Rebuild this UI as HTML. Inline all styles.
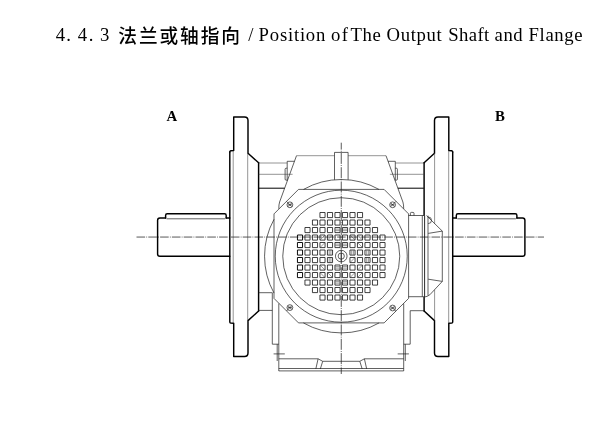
<!DOCTYPE html>
<html><head><meta charset="utf-8"><title>Position of The Output Shaft and Flange</title>
<style>html,body{margin:0;padding:0;background:#fff;}body{width:600px;height:431px;overflow:hidden;font-family:"Liberation Serif",serif;}svg{display:block;filter:grayscale(1);}</style>
</head><body>
<svg width="600" height="431" viewBox="0 0 600 431">
<g font-family="'Liberation Serif', serif" fill="#000" transform="translate(0,41.6) scale(1,1.035) translate(0,-41.6)"><text x="55.7" y="41.3" font-size="18.7">4</text><text x="66.3" y="41.3" font-size="18.7">.</text><text x="77.7" y="41.3" font-size="18.7">4</text><text x="88.7" y="41.3" font-size="18.7">.</text><text x="100.0" y="41.3" font-size="18.7">3</text><text x="118.3" y="42.86" font-size="18.7" font-family="'Liberation Sans', 'Noto Sans CJK SC', sans-serif" font-weight="500" textLength="121.7" lengthAdjust="spacing">法兰或轴指向</text><text x="248.2" y="41.3" font-size="18.7" letter-spacing="0.00">/</text><text x="258.6" y="41.3" font-size="18.7" letter-spacing="0.78">Position</text><text x="330.9" y="41.3" font-size="18.7" letter-spacing="1.60">of</text><text x="350.4" y="41.3" font-size="18.7" letter-spacing="0.71">The</text><text x="386.6" y="41.3" font-size="18.7" letter-spacing="0.65">Output</text><text x="448.2" y="41.3" font-size="18.7" letter-spacing="0.41">Shaft</text><text x="494.6" y="41.3" font-size="18.7" letter-spacing="0.50">and</text><text x="528.6" y="41.3" font-size="18.7" letter-spacing="0.62">Flange</text></g>
<g font-family="'Liberation Serif', serif" font-weight="bold" font-size="14.8" fill="#000"><text x="166.4" y="120.9">A</text><text x="495.1" y="120.9">B</text></g>
<g stroke="#111" stroke-width="0.7" fill="none"><path d="M136.5,237.05 H544" stroke-dasharray="8.6 1.2 0.8 1.2"/><path d="M341.25,142.7 V374" stroke-dasharray="11 1.2 0.9 1.2" stroke-dashoffset="4.1"/></g>
<path stroke="#000" stroke-width="1.45" fill="none" stroke-linejoin="round" stroke-linecap="round" d="M229.8,152 Q229.8,151 230.8,150.8 L233.7,150.6 L233.7,117 L244.5,117 Q248.0,117 248.0,120.5 L248.0,153.2 L258.6,162.8"/><path stroke="#000" stroke-width="1.45" fill="none" stroke-linejoin="round" stroke-linecap="round" d="M229.8,152 L229.8,322 Q229.8,323 230.8,323.1 L233.7,323.3 L233.7,356.5 L244.5,356.5 Q248.0,356.5 248.0,353.0 L248.0,320.6 L258.6,311"/><path stroke="#3a3a3a" stroke-width="0.55" fill="none" d="M233.2,151 V323 M247.7,153 V320.5"/><path stroke="#000" stroke-width="1.45" fill="none" stroke-linejoin="round" stroke-linecap="round" d="M165.6,218 L159.9,218 Q157.6,218 157.6,220.3 L157.6,254 Q157.6,256.3 159.9,256.3 L229.8,256.3 M226.2,218 L229.8,218"/><path stroke="#1c1c1c" stroke-width="0.7" fill="none" d="M166.6,218.8 H225.2"/><path stroke="#000" stroke-width="1.45" fill="none" stroke-linejoin="round" stroke-linecap="round" d="M165.6,218 L165.6,215.4 Q165.6,213.8 167.2,213.8 L224.6,213.8 Q226.2,213.8 226.2,215.4 L226.2,218"/>
<path stroke="#000" stroke-width="1.45" fill="none" stroke-linejoin="round" stroke-linecap="round" d="M452.7,152 Q452.7,151 451.7,150.8 L448.8,150.6 L448.8,117 L438.0,117 Q434.5,117 434.5,120.5 L434.5,153.2 L424.1,162.8"/><path stroke="#000" stroke-width="1.45" fill="none" stroke-linejoin="round" stroke-linecap="round" d="M452.7,152 L452.7,322 Q452.7,323 451.7,323.1 L448.8,323.3 L448.8,356.5 L438.0,356.5 Q434.5,356.5 434.5,353.0 L434.5,320.6 L424.1,311"/><path stroke="#3a3a3a" stroke-width="0.55" fill="none" d="M448.7,151 V323 M434.6,153 V223.6 M434.6,289.9 V320.5"/><path stroke="#000" stroke-width="1.45" fill="none" stroke-linejoin="round" stroke-linecap="round" d="M516.9,218 L522.6,218 Q524.9,218 524.9,220.3 L524.9,254 Q524.9,256.3 522.6,256.3 L452.7,256.3 M456.3,218 L452.7,218"/><path stroke="#1c1c1c" stroke-width="0.7" fill="none" d="M515.9,218.8 H457.3"/><path stroke="#000" stroke-width="1.45" fill="none" stroke-linejoin="round" stroke-linecap="round" d="M516.9,218 L516.9,215.4 Q516.9,213.8 515.3,213.8 L457.9,213.8 Q456.3,213.8 456.3,215.4 L456.3,218"/>
<path stroke="#000" stroke-width="1.45" fill="none" stroke-linejoin="round" stroke-linecap="round" d="M258.6,162.8 V311"/>
<path stroke="#000" stroke-width="1.45" fill="none" stroke-linejoin="round" stroke-linecap="round" d="M424.1,162.8 V215.3 M424.1,297.2 V311"/>
<path stroke="#111" stroke-width="0.9" fill="none" d="M424.6,215.5 V297"/>
<path stroke="#1c1c1c" stroke-width="0.7" fill="none" d="M334.5,179.8 V152.4 H348.1 V179.8 M296.5,155.7 L279.6,202 Q278.8,204.5 278.8,208.8 M386.0,155.7 L402.9,202 Q403.7,204.5 403.7,208.8 M298.5,189.4 L384.1,189.4 L408.6,213.9 L408.6,298.4 L384.1,322.9 L298.5,322.9 L274.0,298.4 L274.0,213.9 Z M303.56,189.40 A76.7,76.7 0 0 1 378.94,189.40 M379.12,322.90 A76.7,76.7 0 0 1 303.38,322.90 M274.00,293.08 A76.7,76.7 0 0 1 274.00,219.32"/>
<path stroke="#3a3a3a" stroke-width="0.55" fill="none" d="M296.5,155.7 H334.5 M348.1,155.7 H386.0"/>
<circle stroke="#1c1c1c" stroke-width="0.7" fill="none" cx="341.25" cy="256.2" r="66.0"/><circle stroke="#1c1c1c" stroke-width="0.7" fill="none" cx="341.25" cy="256.2" r="58.5"/>
<g stroke="#1c1c1c" stroke-width="0.7" fill="none"><circle cx="289.9" cy="204.8" r="2.9"/><path d="M288.10,203.00 L291.70,206.60 M291.70,203.00 L288.10,206.60 M287.90,204.8 H291.90 M287.90,202.80 L286.50,201.40"/></g>
<g stroke="#1c1c1c" stroke-width="0.7" fill="none"><circle cx="392.6" cy="204.8" r="2.9"/><path d="M390.80,203.00 L394.40,206.60 M394.40,203.00 L390.80,206.60 M390.60,204.8 H394.60 M394.60,202.80 L396.00,201.40"/></g>
<g stroke="#1c1c1c" stroke-width="0.7" fill="none"><circle cx="289.9" cy="307.6" r="2.9"/><path d="M288.10,305.80 L291.70,309.40 M291.70,305.80 L288.10,309.40 M287.90,307.6 H291.90 M287.90,309.60 L286.50,311.00"/></g>
<g stroke="#1c1c1c" stroke-width="0.7" fill="none"><circle cx="392.6" cy="308.0" r="2.9"/><path d="M390.80,306.20 L394.40,309.80 M394.40,306.20 L390.80,309.80 M390.60,308.0 H394.60 M394.60,310.00 L396.00,311.40"/></g>
<path stroke="#1c1c1c" stroke-width="0.7" fill="none" d="M287.2,180.4 V161.3 H294.5 M287.2,168.2 H286.2 Q285.1,168.2 285.1,169.3 V179.1 Q285.1,180.2 286.2,180.2 H287.2 M395.3,180.4 V161.3 H388.0 M395.3,168.2 H396.3 Q397.4,168.2 397.4,169.3 V179.1 Q397.4,180.2 396.3,180.2 H395.3"/>
<path stroke="#3a3a3a" stroke-width="0.55" fill="none" d="M258.6,163 H287.2 M258.6,174.3 H292.6 M423.9,163 H395.3 M423.9,174.3 H389.9"/>
<path stroke="#000" stroke-width="1.0" fill="none" d="M258.6,188.2 H284.6 M423.9,188.2 H397.9"/>
<path stroke="#1c1c1c" stroke-width="0.7" fill="none" d="M258.6,292.7 H272.3 M258.6,310.4 H272.3 M272.3,292.7 V344.2 H278.8 M278.8,303.5 V371 M277.2,344.2 V361 M273.6,353.9 H284.8 M423.9,296.7 H408.6 M423.9,310.7 H410.2 V344.2 H403.7 M403.7,303.5 V371 M405.3,344.2 V361 M408.9,353.9 H397.7"/>
<path stroke="#1c1c1c" stroke-width="0.7" fill="none" d="M278.8,358.8 H318.1 L315.8,369 M322.7,361.3 L320.3,369 M318.1,358.8 L322.7,361.3 H359.8 L364.4,358.8 H403.7 M364.4,358.8 L366.7,369 M359.8,361.3 L362.2,369 M278.8,368.5 H403.7 M278.8,370.9 H403.7"/>
<path stroke="#1c1c1c" stroke-width="0.7" fill="none" d="M408.6,215.5 H424 M422.3,215.5 V296.7 M410.4,215.5 V213.3 Q410.4,212.4 411.3,212.4 H413 Q414,212.4 414,213.3 V215.5 M428,215.6 V295.6 M426.5,215.6 L442.3,231.1 V281.4 L429.8,294.8 Q427.5,296.6 424.6,297 M428.2,233.4 L442.3,231.1 M428.2,279.2 L442.3,281.4 M428.2,217 A3.3,3.3 0 0 1 428.2,223.6"/>
<path stroke="#111" stroke-width="0.8" fill="none" d="M319.95,212.50h5.1v5.1h-5.1zM327.45,212.50h5.1v5.1h-5.1zM334.95,212.50h5.1v5.1h-5.1zM342.45,212.50h5.1v5.1h-5.1zM349.95,212.50h5.1v5.1h-5.1zM357.45,212.50h5.1v5.1h-5.1zM312.45,220.00h5.1v5.1h-5.1zM319.95,220.00h5.1v5.1h-5.1zM327.45,220.00h5.1v5.1h-5.1zM334.95,220.00h5.1v5.1h-5.1zM342.45,220.00h5.1v5.1h-5.1zM349.95,220.00h5.1v5.1h-5.1zM357.45,220.00h5.1v5.1h-5.1zM364.95,220.00h5.1v5.1h-5.1zM304.95,227.50h5.1v5.1h-5.1zM312.45,227.50h5.1v5.1h-5.1zM319.95,227.50h5.1v5.1h-5.1zM327.45,227.50h5.1v5.1h-5.1zM334.95,227.50h5.1v5.1h-5.1zM342.45,227.50h5.1v5.1h-5.1zM349.95,227.50h5.1v5.1h-5.1zM357.45,227.50h5.1v5.1h-5.1zM364.95,227.50h5.1v5.1h-5.1zM372.45,227.50h5.1v5.1h-5.1zM304.95,235.00h5.1v5.1h-5.1zM312.45,235.00h5.1v5.1h-5.1zM319.95,235.00h5.1v5.1h-5.1zM327.45,235.00h5.1v5.1h-5.1zM334.95,235.00h5.1v5.1h-5.1zM342.45,235.00h5.1v5.1h-5.1zM349.95,235.00h5.1v5.1h-5.1zM357.45,235.00h5.1v5.1h-5.1zM364.95,235.00h5.1v5.1h-5.1zM372.45,235.00h5.1v5.1h-5.1zM379.95,235.00h5.1v5.1h-5.1zM304.95,242.50h5.1v5.1h-5.1zM312.45,242.50h5.1v5.1h-5.1zM319.95,242.50h5.1v5.1h-5.1zM327.45,242.50h5.1v5.1h-5.1zM334.95,242.50h5.1v5.1h-5.1zM342.45,242.50h5.1v5.1h-5.1zM349.95,242.50h5.1v5.1h-5.1zM357.45,242.50h5.1v5.1h-5.1zM364.95,242.50h5.1v5.1h-5.1zM372.45,242.50h5.1v5.1h-5.1zM379.95,242.50h5.1v5.1h-5.1zM304.95,250.00h5.1v5.1h-5.1zM312.45,250.00h5.1v5.1h-5.1zM319.95,250.00h5.1v5.1h-5.1zM327.45,250.00h5.1v5.1h-5.1zM349.95,250.00h5.1v5.1h-5.1zM357.45,250.00h5.1v5.1h-5.1zM364.95,250.00h5.1v5.1h-5.1zM372.45,250.00h5.1v5.1h-5.1zM379.95,250.00h5.1v5.1h-5.1zM304.95,257.50h5.1v5.1h-5.1zM312.45,257.50h5.1v5.1h-5.1zM319.95,257.50h5.1v5.1h-5.1zM327.45,257.50h5.1v5.1h-5.1zM349.95,257.50h5.1v5.1h-5.1zM357.45,257.50h5.1v5.1h-5.1zM364.95,257.50h5.1v5.1h-5.1zM372.45,257.50h5.1v5.1h-5.1zM379.95,257.50h5.1v5.1h-5.1zM304.95,265.00h5.1v5.1h-5.1zM312.45,265.00h5.1v5.1h-5.1zM319.95,265.00h5.1v5.1h-5.1zM327.45,265.00h5.1v5.1h-5.1zM334.95,265.00h5.1v5.1h-5.1zM342.45,265.00h5.1v5.1h-5.1zM349.95,265.00h5.1v5.1h-5.1zM357.45,265.00h5.1v5.1h-5.1zM364.95,265.00h5.1v5.1h-5.1zM372.45,265.00h5.1v5.1h-5.1zM379.95,265.00h5.1v5.1h-5.1zM304.95,272.50h5.1v5.1h-5.1zM312.45,272.50h5.1v5.1h-5.1zM319.95,272.50h5.1v5.1h-5.1zM327.45,272.50h5.1v5.1h-5.1zM334.95,272.50h5.1v5.1h-5.1zM342.45,272.50h5.1v5.1h-5.1zM349.95,272.50h5.1v5.1h-5.1zM357.45,272.50h5.1v5.1h-5.1zM364.95,272.50h5.1v5.1h-5.1zM372.45,272.50h5.1v5.1h-5.1zM379.95,272.50h5.1v5.1h-5.1zM304.95,280.00h5.1v5.1h-5.1zM312.45,280.00h5.1v5.1h-5.1zM319.95,280.00h5.1v5.1h-5.1zM327.45,280.00h5.1v5.1h-5.1zM334.95,280.00h5.1v5.1h-5.1zM342.45,280.00h5.1v5.1h-5.1zM349.95,280.00h5.1v5.1h-5.1zM357.45,280.00h5.1v5.1h-5.1zM364.95,280.00h5.1v5.1h-5.1zM372.45,280.00h5.1v5.1h-5.1zM312.45,287.50h5.1v5.1h-5.1zM319.95,287.50h5.1v5.1h-5.1zM327.45,287.50h5.1v5.1h-5.1zM334.95,287.50h5.1v5.1h-5.1zM342.45,287.50h5.1v5.1h-5.1zM349.95,287.50h5.1v5.1h-5.1zM357.45,287.50h5.1v5.1h-5.1zM364.95,287.50h5.1v5.1h-5.1zM319.95,295.00h5.1v5.1h-5.1zM327.45,295.00h5.1v5.1h-5.1zM334.95,295.00h5.1v5.1h-5.1zM342.45,295.00h5.1v5.1h-5.1zM349.95,295.00h5.1v5.1h-5.1zM357.45,295.00h5.1v5.1h-5.1z"/>
<path stroke="#000" stroke-width="0.95" fill="none" d="M297.45,235.00h5.1v5.1h-5.1zM297.45,242.50h5.1v5.1h-5.1zM297.45,250.00h5.1v5.1h-5.1zM297.45,257.50h5.1v5.1h-5.1zM297.45,265.00h5.1v5.1h-5.1zM297.45,272.50h5.1v5.1h-5.1z"/>
<path stroke="#333" stroke-width="0.5" fill="none" d="M320.25,239.80L324.75,235.30M327.75,239.80L332.25,235.30M320.25,247.30L324.75,242.80M329.20,250.30V254.80M330.90,250.30V254.80M329.20,257.80V262.30M330.90,257.80V262.30M320.25,265.30L324.75,269.80M320.25,272.80L324.75,277.30M327.75,272.80L332.25,277.30M350.25,235.30L354.75,239.80M357.75,235.30L362.25,239.80M357.75,242.80L362.25,247.30M351.70,250.30V254.80M353.40,250.30V254.80M350.25,262.30L354.75,257.80M366.70,250.30V254.80M368.40,250.30V254.80M366.70,257.80V262.30M368.40,257.80V262.30M357.75,269.80L362.25,265.30M350.25,277.30L354.75,272.80M357.75,277.30L362.25,272.80M335.25,230.65H339.75M335.25,229.15H339.75M342.75,230.65H347.25M342.75,229.15H347.25M335.25,245.65H339.75M335.25,244.15H339.75M342.75,245.65H347.25M342.75,244.15H347.25M335.25,268.15H339.75M335.25,266.65H339.75M342.75,268.15H347.25M342.75,266.65H347.25M335.25,283.15H339.75M335.25,281.65H339.75M342.75,283.15H347.25M342.75,281.65H347.25"/>
<g stroke="#1c1c1c" stroke-width="0.7" fill="none"><circle cx="341.25" cy="256.1" r="5.8"/><circle cx="341.25" cy="256.1" r="3.1"/><path d="M341.25,250 V262"/></g>
</svg>
</body></html>
